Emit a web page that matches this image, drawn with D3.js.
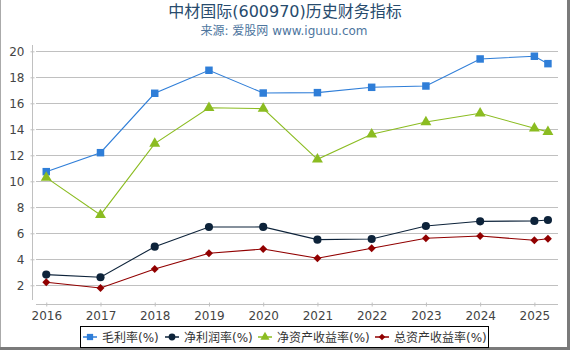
<!DOCTYPE html>
<html>
<head>
<meta charset="utf-8">
<script src="https://cdn.jsdelivr.net/npm/d3@7"></script>
<style>
  body { margin: 0; background: #fff; }
  svg { display: block; font-family: "DejaVu Sans", "Noto Sans CJK SC", sans-serif; }
</style>
</head>
<body>
<div id="chart"></div>
<script>
// data
const years = [2016, 2017, 2018, 2019, 2020, 2021, 2022, 2023, 2024, 2025, 2025.25];
const xTicks = [2016, 2017, 2018, 2019, 2020, 2021, 2022, 2023, 2024, 2025];
const yTicks = [2, 4, 6, 8, 10, 12, 14, 16, 18, 20];
const seriesNames = ["毛利率(%)", "净利润率(%)", "净资产收益率(%)", "总资产收益率(%)"];
const grossMargin = [10.74, 12.2, 16.77, 18.54, 16.79, 16.82, 17.23, 17.33, 19.41, 19.62, 19.05];
const netMargin = [2.82, 2.62, 4.97, 6.48, 6.49, 5.51, 5.56, 6.56, 6.92, 6.95, 7.02];
const roe = [10.28, 7.41, 12.9, 15.66, 15.59, 11.69, 13.62, 14.56, 15.23, 14.08, 13.8];
const roa = [2.23, 1.79, 3.25, 4.46, 4.79, 4.08, 4.85, 5.62, 5.79, 5.46, 5.58];

const colors = ["#2f7ed8", "#0d233a", "#8bbc21", "#910000"];
const symbols = [d3.symbolSquare, d3.symbolCircle, d3.symbolTriangle, d3.symbolDiamond2];
const symSizes = [56, 52, 52, 40];

const W = 570, H = 350;
const svg = d3.select("#chart").append("svg")
    .attr("width", W)
    .attr("height", H);

// frame
svg.append("line").attr("x1", 0.5).attr("x2", 0.5).attr("y1", 0).attr("y2", H)
    .attr("stroke", "#aaa");
svg.append("rect").attr("x", 567).attr("y", 0).attr("width", 3).attr("height", H).attr("fill", "#7a7a7a");
svg.append("rect").attr("x", 0).attr("y", 347).attr("width", W).attr("height", 3).attr("fill", "#7a7a7a");

// titles
svg.append("text")
    .attr("x", 285).attr("y", 17)
    .attr("text-anchor", "middle")
    .style("font-size", "16px")
    .attr("fill", "#274b6d")
    .text("中材国际(600970)历史财务指标");
svg.append("text")
    .attr("x", 284).attr("y", 35)
    .attr("text-anchor", "middle")
    .style("font-size", "12px")
    .attr("fill", "#4d759e")
    .text("来源: 爱股网 www.iguuu.com");

// scales
const x = d3.scaleLinear().domain([2015.75, 2025.43]).range([32.7, 557.7]);
const y = d3.scaleLinear().domain([0.56, 20.5]).range([304, 44.8]);

// grid
svg.append("g").selectAll("line")
    .data(yTicks)
    .enter()
    .append("line")
    .attr("x1", 36).attr("x2", 558)
    .attr("y1", d => Math.round(y(d)) + 0.5)
    .attr("y2", d => Math.round(y(d)) + 0.5)
    .attr("stroke", "#c0c0c0");

// y axis
const yAxis = svg.append("g")
    .attr("transform", "translate(32.5,0)")
    .call(d3.axisLeft(y).tickValues(yTicks).tickSize(3).tickPadding(5).tickSizeOuter(0));
yAxis.select(".domain").remove();
yAxis.append("line").attr("x1", 0).attr("x2", 0).attr("y1", 45).attr("y2", 300).attr("stroke", "#c0c0c0");
yAxis.selectAll(".tick line").attr("stroke", "#c0c0c0").attr("x2", 2).attr("x1", -2);
yAxis.selectAll("text")
    .style("font-family", "DejaVu Sans")
    .style("font-size", "12px")
    .attr("fill", "#444");

// x axis
const xAxis = svg.append("g")
    .attr("transform", "translate(0,304.5)")
    .call(d3.axisBottom(x).tickValues(xTicks).tickFormat(d3.format("d")).tickSize(2).tickPadding(5).tickSizeOuter(0));
xAxis.select(".domain").remove();
xAxis.append("line").attr("x1", 36).attr("x2", 558).attr("y1", 0).attr("y2", 0).attr("stroke", "#c0c0c0");
xAxis.selectAll(".tick line").attr("stroke", "#c0c0c0").attr("y1", -2).attr("y2", 2);
xAxis.selectAll("text")
    .style("font-family", "DejaVu Sans")
    .style("font-size", "12px")
    .attr("fill", "#444");

// series
const allSeries = [grossMargin, netMargin, roe, roa];
const line = d3.line()
    .x(d => x(d[0]))
    .y(d => y(d[1]));

allSeries.forEach((vals, i) => {
    const pts = years.map((yr, j) => [yr, vals[j]]);
    svg.append("path")
        .datum(pts)
        .attr("fill", "none")
        .attr("stroke", colors[i])
        .attr("stroke-width", 1.1)
        .attr("d", line);
    svg.append("g").selectAll("path")
        .data(pts)
        .enter()
        .append("path")
        .attr("transform", d => `translate(${x(d[0])},${y(d[1])})`)
        .attr("d", d3.symbol().type(symbols[i]).size(symSizes[i]))
        .attr("fill", colors[i]);
});

// legend
const legend = svg.append("g");
legend.append("rect")
    .attr("x", 80.5).attr("y", 326.5)
    .attr("width", 408).attr("height", 21)
    .attr("fill", "#fff")
    .attr("stroke", "#000");
const legendX = [83, 165, 258, 375];
seriesNames.forEach((name, i) => {
    const g = legend.append("g").attr("transform", `translate(${legendX[i]},337)`);
    g.append("line").attr("x1", 0).attr("x2", 14).attr("stroke", colors[i]).attr("stroke-width", 1.5);
    g.append("path")
        .attr("transform", "translate(7,0)")
        .attr("d", d3.symbol().type(symbols[i]).size(symSizes[i] * 0.7))
        .attr("fill", colors[i]);
    g.append("text")
        .attr("x", 19).attr("y", 4.5)
        .style("font-size", "12px")
        .attr("fill", "#333")
        .text(name);
});
</script>
</body>
</html>
